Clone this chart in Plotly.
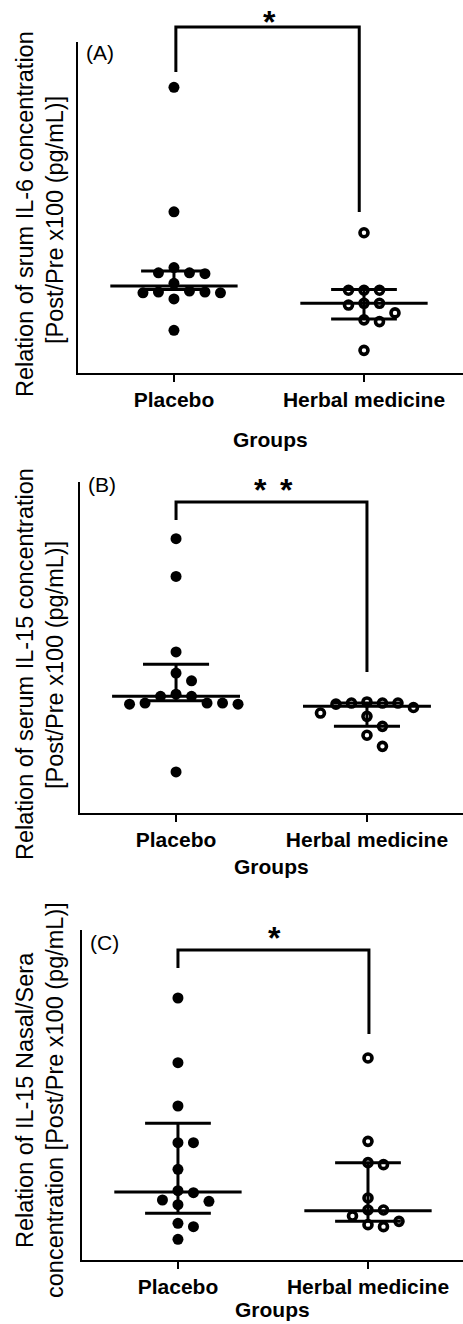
import numpy as np
import plotly.graph_objects as go

W, H = 463, 1324

group_names = ["Placebo", "Herbal medicine"]
x_title = "Groups"

# ---- Panel A: serum IL-6 (relative values, Post/Pre x100) ----
a_placebo = [328, 185, 121, 115, 115, 114, 103, 94, 93, 93, 92, 92, 85, 49]
a_herbal = [161, 95, 95, 95, 80, 80, 78, 69, 61, 59, 26]
a_median = [100, 80]
a_q1 = [96, 62]
a_q3 = [117, 96]

# ---- Panel B: serum IL-15 ----
b_placebo = [247, 213, 145, 126, 119, 107, 105, 105, 99, 99, 99, 98, 98, 37]
b_herbal = [100, 99, 99, 99, 98, 95, 90, 87, 78, 70, 60]
b_median = [105, 96]
b_q1 = [101, 78]
b_q3 = [134, 99]

# ---- Panel C: IL-15 nasal/sera ----
c_placebo = [393, 296, 231, 176, 176, 136, 104, 101, 90, 88, 83, 55, 50, 31]
c_herbal = [303, 178, 146, 143, 93, 75, 75, 66, 58, 53, 50]
c_median = [102, 74]
c_q1 = [70, 58]
c_q3 = [205, 146]

panel_labels = ["(A)", "(B)", "(C)"]
significance = ["*", "* *", "*"]
y_titles = [
    ["Relation of srum IL-6 concentration", "[Post/Pre x100 (pg/mL)]"],
    ["Relation of serum IL-15 concentration", "[Post/Pre x100 (pg/mL)]"],
    ["Relation of IL-15 Nasal/Sera", "concentration [Post/Pre x100 (pg/mL)]"],
]

data = [
    (a_placebo, a_herbal, a_median, a_q1, a_q3),
    (b_placebo, b_herbal, b_median, b_q1, b_q3),
    (c_placebo, c_herbal, c_median, c_q1, c_q3),
]

# ---- layout geometry (pixels) ----
geo = [
    dict(left=78, bottom=373, top=42, ymax=380, xr=(-0.505, 1.521),
         ytl=(214, 220), groups_y=439, lab_y=52,
         brk=(0.01, 0.975, 27, 72, 212), star_y=22, star_x=[0.505]),
    dict(left=80, bottom=813, top=482, ymax=298, xr=(-0.503, 1.503),
         ytl=(664, 665), groups_y=866, lab_y=485,
         brk=(0.0, 1.0, 502, 520, 672), star_y=490, star_x=[0.44, 0.58]),
    dict(left=82, bottom=1260, top=930, ymax=495, xr=(-0.505, 1.50),
         ytl=(1100, 1100), groups_y=1309, lab_y=942,
         brk=(0.0, 1.005, 950, 968, 1034), star_y=938, star_x=[0.51]),
]

FONT = "Arial, Liberation Sans, sans-serif"


def px_x(p):
    return p / W


def px_y(p):
    return 1 - p / H


def swarm(vals, px_per_val, step_px=15.5, diam=11.5):
    vals = np.asarray(vals, dtype=float)
    order = np.argsort(-vals, kind="stable")
    placed = []
    offs = np.zeros(len(vals))
    cands = [0]
    for j in range(1, 20):
        cands += [j, -j]
    for i in order:
        y = vals[i] * px_per_val
        for c in cands:
            xo = c * step_px
            if all((xo - qx) ** 2 + (y - qy) ** 2 >= diam ** 2 for qx, qy in placed):
                placed.append((xo, y))
                offs[i] = xo
                break
    return offs


fig = go.Figure()
shapes = []
annotations = []

for k, (g, d) in enumerate(zip(geo, data)):
    n = "" if k == 0 else str(k + 1)
    xa, ya = "x" + n, "y" + n
    placebo, herbal, med, q1, q3 = d
    plot_w = W - g["left"]
    plot_h = g["bottom"] - g["top"]
    unit_px = plot_w / (g["xr"][1] - g["xr"][0])
    px_per_val = plot_h / g["ymax"]

    for gi, vals in enumerate([placebo, herbal]):
        offs = swarm(vals, px_per_val) / unit_px
        xs = gi + offs
        if gi == 0:
            marker = dict(size=11, color="black", line=dict(width=0))
        else:
            marker = dict(size=8, color="white", line=dict(width=3.6, color="black"))
        fig.add_trace(go.Scatter(x=xs, y=vals, mode="markers", marker=marker,
                                 xaxis=xa, yaxis=ya, showlegend=False,
                                 hoverinfo="y", cliponaxis=False))

    # median and interquartile range
    for gi in range(2):
        mw, ww = 0.335, 0.173
        xs = [gi - mw, gi + mw, None, gi - ww, gi + ww, None, gi - ww, gi + ww, None, gi, gi]
        ys = [med[gi], med[gi], None, q3[gi], q3[gi], None, q1[gi], q1[gi], None, q1[gi], q3[gi]]
        fig.add_trace(go.Scatter(x=xs, y=ys, mode="lines",
                                 line=dict(color="black", width=3),
                                 xaxis=xa, yaxis=ya, showlegend=False, hoverinfo="skip"))

    fig.update_layout({
        "xaxis" + n: dict(domain=[px_x(g["left"]), 1], range=list(g["xr"]),
                          anchor=ya, showgrid=False, zeroline=False,
                          showline=True, linecolor="black", linewidth=2,
                          tickmode="array", tickvals=[0, 1], ticktext=group_names,
                          ticks="outside", ticklen=7, tickwidth=2, tickcolor="black",
                          tickfont=dict(family=FONT, size=21, color="black", weight="bold"),
                          fixedrange=True),
        "yaxis" + n: dict(domain=[px_y(g["bottom"]), px_y(g["top"])],
                          range=[0, g["ymax"]], anchor=xa, showgrid=False,
                          zeroline=False, showline=True, linecolor="black",
                          linewidth=2, showticklabels=False, ticks="",
                          fixedrange=True),
    })

    # significance bracket
    def dx(v):
        return g["left"] + (v - g["xr"][0]) * unit_px
    xl, xr_, ytop, yl, yr = g["brk"]
    path = (f"M {px_x(dx(xl))} {px_y(yl)} L {px_x(dx(xl))} {px_y(ytop)} "
            f"L {px_x(dx(xr_))} {px_y(ytop)} L {px_x(dx(xr_))} {px_y(yr)}")
    shapes.append(dict(type="path", path=path, xref="paper", yref="paper",
                       line=dict(color="black", width=3)))

    stars = significance[k].split()
    for sx, st in zip(g["star_x"], stars):
        annotations.append(dict(text=st, x=px_x(dx(sx)), y=px_y(g["star_y"]),
                                xref="paper", yref="paper", showarrow=False,
                                xanchor="center", yanchor="middle",
                                font=dict(family=FONT, size=32, color="black", weight="bold")))

    # panel label
    annotations.append(dict(text=panel_labels[k], x=px_x(g["left"] + 6), y=px_y(g["lab_y"]),
                            xref="paper", yref="paper", showarrow=False,
                            xanchor="left", yanchor="middle",
                            font=dict(family=FONT, size=21, color="black")))

    # y-axis title (two lines)
    for li, (xpos, ypos) in enumerate(zip((25, 55), g["ytl"])):
        annotations.append(dict(text=y_titles[k][li], x=px_x(xpos), y=px_y(ypos),
                                xref="paper", yref="paper", showarrow=False,
                                textangle=-90, xanchor="center", yanchor="middle",
                                font=dict(family=FONT, size=23.5, color="black")))

    # x-axis title
    annotations.append(dict(text=x_title, x=px_x((g["left"] + W) / 2), y=px_y(g["groups_y"]),
                            xref="paper", yref="paper", showarrow=False,
                            xanchor="center", yanchor="middle",
                            font=dict(family=FONT, size=21, color="black", weight="bold")))

fig.update_layout(width=W, height=H, margin=dict(l=0, r=0, t=0, b=0),
                  paper_bgcolor="white", plot_bgcolor="white",
                  shapes=shapes, annotations=annotations, showlegend=False)

fig.write_html("out.html", config=dict(displayModeBar=False, staticPlot=True),
               post_script="document.body.style.margin='0px';document.body.style.overflow='hidden';")
